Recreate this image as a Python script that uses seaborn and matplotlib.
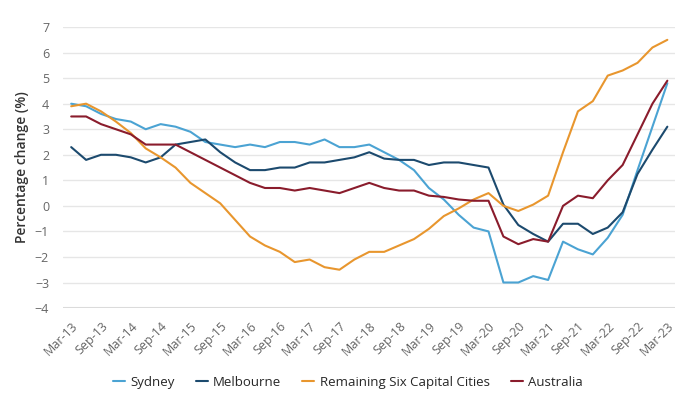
import numpy as np
import pandas as pd
import seaborn as sns
import matplotlib.pyplot as plt

# Quarterly periods Mar-13 .. Mar-23
quarters = pd.date_range('2013-03-01', '2023-03-01', freq='3MS').strftime('%b-%y').tolist()

sydney = [4.0, 3.9, 3.6, 3.4, 3.3, 3.0, 3.2, 3.1, 2.9, 2.5,
          2.4, 2.3, 2.4, 2.3, 2.5, 2.5, 2.4, 2.6, 2.3, 2.3,
          2.4, 2.1, 1.8, 1.4, 0.7, 0.25, -0.35, -0.85, -1.0, -3.0,
          -3.0, -2.75, -2.9, -1.4, -1.7, -1.9, -1.25, -0.35, 1.4, 3.1,
          4.8]
melbourne = [2.3, 1.8, 2.0, 2.0, 1.9, 1.7, 1.9, 2.4, 2.5, 2.6,
             2.1, 1.7, 1.4, 1.4, 1.5, 1.5, 1.7, 1.7, 1.8, 1.9,
             2.1, 1.85, 1.8, 1.8, 1.6, 1.7, 1.7, 1.6, 1.5, 0.05,
             -0.75, -1.1, -1.4, -0.7, -0.7, -1.1, -0.85, -0.25, 1.25, 2.2,
             3.1]
remaining = [3.9, 4.0, 3.7, 3.3, 2.85, 2.25, 1.9, 1.5, 0.9, 0.5,
             0.1, -0.55, -1.2, -1.55, -1.8, -2.2, -2.1, -2.4, -2.5, -2.1,
             -1.8, -1.8, -1.55, -1.3, -0.9, -0.4, -0.1, 0.25, 0.5, 0.0,
             -0.2, 0.05, 0.4, 2.1, 3.7, 4.1, 5.1, 5.3, 5.6, 6.2,
             6.5]
australia = [3.5, 3.5, 3.2, 3.0, 2.8, 2.4, 2.4, 2.4, 2.1, 1.8,
             1.5, 1.2, 0.9, 0.7, 0.7, 0.6, 0.7, 0.6, 0.5, 0.7,
             0.9, 0.7, 0.6, 0.6, 0.4, 0.35, 0.25, 0.2, 0.2, -1.2,
             -1.5, -1.3, -1.4, 0.0, 0.4, 0.3, 1.0, 1.6, 2.8, 4.0,
             4.9]

series_names = ['Sydney', 'Melbourne', 'Remaining Six Capital Cities', 'Australia']
colors = ['#4ba3d3', '#1c4a6e', '#e8962e', '#8a1c2c']

df = pd.DataFrame({'Sydney': sydney, 'Melbourne': melbourne,
                   'Remaining Six Capital Cities': remaining, 'Australia': australia})
df['idx'] = np.arange(len(quarters))
long_df = df.melt(id_vars='idx', var_name='series', value_name='value')

sns.set_style('white')
plt.rcParams['font.family'] = ['Open Sans', 'DejaVu Sans']

fig = plt.figure(figsize=(7, 3.98), dpi=100)
ax = fig.add_axes([0.09, 0.226, 0.874, 0.706])

sns.lineplot(data=long_df, x='idx', y='value', hue='series', hue_order=series_names,
             palette=dict(zip(series_names, colors)), linewidth=1.5, ax=ax, legend=True)

ax.set_ylim(-4, 7)
ax.set_xlim(-0.55, 40.5)
ax.set_yticks(range(-4, 8))
ax.yaxis.grid(True, color='#e6e6e6', linewidth=1)
ax.axhline(-4, color='#d9d9d9', linewidth=1.5, zorder=0)
for s in ax.spines.values():
    s.set_visible(False)

ax.set_xticks(range(0, len(quarters), 2))
ax.set_xticklabels(quarters[::2], rotation=45, ha='right', rotation_mode='anchor')
ax.tick_params(axis='both', length=0, labelsize=9, colors='#666666')
ax.tick_params(axis='x', pad=8)
ax.tick_params(axis='y', pad=10)

ax.set_xlabel('')
ax.set_ylabel('Percentage change (%)', fontsize=10, color='#333333', labelpad=4,
              fontweight='semibold')

handles, labels = ax.get_legend_handles_labels()
ax.get_legend().remove()
fig.legend(handles, labels, loc='center', bbox_to_anchor=(0.497, 0.04), ncol=4,
           frameon=False, handlelength=0.9, handletextpad=0.4,
           columnspacing=1.6, prop={'size': 9.5})

fig.savefig('out.png', dpi=100, facecolor='white')
